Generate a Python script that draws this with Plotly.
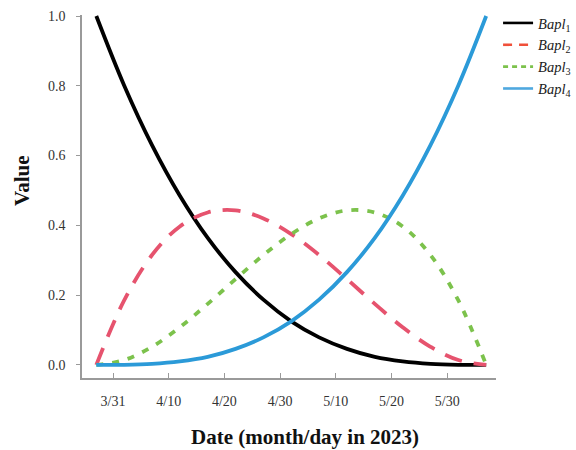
import plotly.graph_objects as go

# Sample dates (every 5 days from 3/28 to 6/6, 2023)
dates = ["2023-03-28", "2023-04-02", "2023-04-07", "2023-04-12", "2023-04-17",
         "2023-04-22", "2023-04-27", "2023-05-02", "2023-05-07", "2023-05-12",
         "2023-05-17", "2023-05-22", "2023-05-27", "2023-06-01", "2023-06-06"]

bapl_1 = [1.000, 0.801, 0.630, 0.485, 0.364, 0.266, 0.187, 0.125,
          0.079, 0.046, 0.023, 0.010, 0.003, 0.0004, 0.000]
bapl_2 = [0.000, 0.185, 0.315, 0.397, 0.437, 0.443, 0.420, 0.375,
          0.315, 0.246, 0.175, 0.108, 0.052, 0.014, 0.000]
bapl_3 = [0.000, 0.014, 0.052, 0.108, 0.175, 0.246, 0.315, 0.375,
          0.420, 0.443, 0.437, 0.397, 0.315, 0.185, 0.000]
bapl_4 = [0.000, 0.0004, 0.003, 0.010, 0.023, 0.046, 0.079, 0.125,
          0.187, 0.266, 0.364, 0.485, 0.630, 0.801, 1.000]

names = ["<i>Bapl</i><sub>1</sub>", "<i>Bapl</i><sub>2</sub>",
         "<i>Bapl</i><sub>3</sub>", "<i>Bapl</i><sub>4</sub>"]
series = [bapl_1, bapl_2, bapl_3, bapl_4]
line_colors = ["#000000", "#E6536E", "#7CC24C", "#2B9AD8"]
legend_colors = ["#000000", "#F0503A", "#7CC24C", "#4FA8DF"]
dashes = ["solid", "18px,12px", "7px,9px", "solid"]
legend_dashes = ["solid", "9px,7px", "5px,4px", "solid"]

x_ticks = ["2023-03-31", "2023-04-10", "2023-04-20", "2023-04-30",
           "2023-05-10", "2023-05-20", "2023-05-30"]
x_tick_text = ["3/31", "4/10", "4/20", "4/30", "5/10", "5/20", "5/30"]
y_ticks = [0.0, 0.2, 0.4, 0.6, 0.8, 1.0]

SERIF = "Liberation Serif"

fig = go.Figure()
for vals, col, dash in zip(series, line_colors, dashes):
    fig.add_trace(go.Scatter(
        x=dates, y=vals, mode="lines", showlegend=False,
        line=dict(color=col, width=3.8, dash=dash, shape="spline", smoothing=1.0),
    ))
# legend entries
for name, col, dash in zip(names, legend_colors, legend_dashes):
    fig.add_trace(go.Scatter(
        x=[None], y=[None], mode="lines", name=name,
        line=dict(color=col, width=2.6, dash=dash),
    ))

fig.update_layout(
    width=576, height=450,
    margin=dict(l=82, r=80, t=15, b=72, autoexpand=False),
    plot_bgcolor="white", paper_bgcolor="white",
    font=dict(family=SERIF, color="#333333", size=14),
    legend=dict(
        x=1.005, y=1.022, xanchor="left", yanchor="top",
        font=dict(family=SERIF, size=14.5, color="#222222"),
        bgcolor="rgba(0,0,0,0)", tracegroupgap=0, itemwidth=30,
    ),
    xaxis=dict(
        type="date",
        range=["2023-03-25 10:20", "2023-06-07 18:15"],
        tickvals=x_ticks, ticktext=x_tick_text,
        ticks="inside", ticklen=5, tickcolor="#9a9a9a", tickwidth=1,
        showline=True, linecolor="#9a9a9a", linewidth=1.5,
        showgrid=False, zeroline=False, ticklabelstandoff=9,
        tickfont=dict(family=SERIF, size=14, color="#333333"),
    ),
    yaxis=dict(
        range=[-0.0375, 1.003],
        tickvals=y_ticks, tickformat=".1f",
        ticks="outside", ticklen=4, tickcolor="#9a9a9a", tickwidth=1,
        showline=True, linecolor="#9a9a9a", linewidth=1.5,
        showgrid=False, zeroline=False, ticklabelstandoff=8,
        tickfont=dict(family=SERIF, size=14, color="#333333"),
    ),
    annotations=[
        dict(text="<b>Date (month/day in 2023)</b>", xref="paper", yref="paper",
             x=(305 - 82) / 414, y=-(437 - 378) / 363, xanchor="center", yanchor="middle",
             showarrow=False, font=dict(family=SERIF, size=21, color="#111111")),
        dict(text="<b>Value</b>", xref="paper", yref="paper",
             x=-(82 - 22) / 414, y=(378 - 181) / 363, xanchor="center", yanchor="middle",
             textangle=-90, showarrow=False, font=dict(family=SERIF, size=21, color="#111111")),
    ],
)

fig.write_html("out.html")
